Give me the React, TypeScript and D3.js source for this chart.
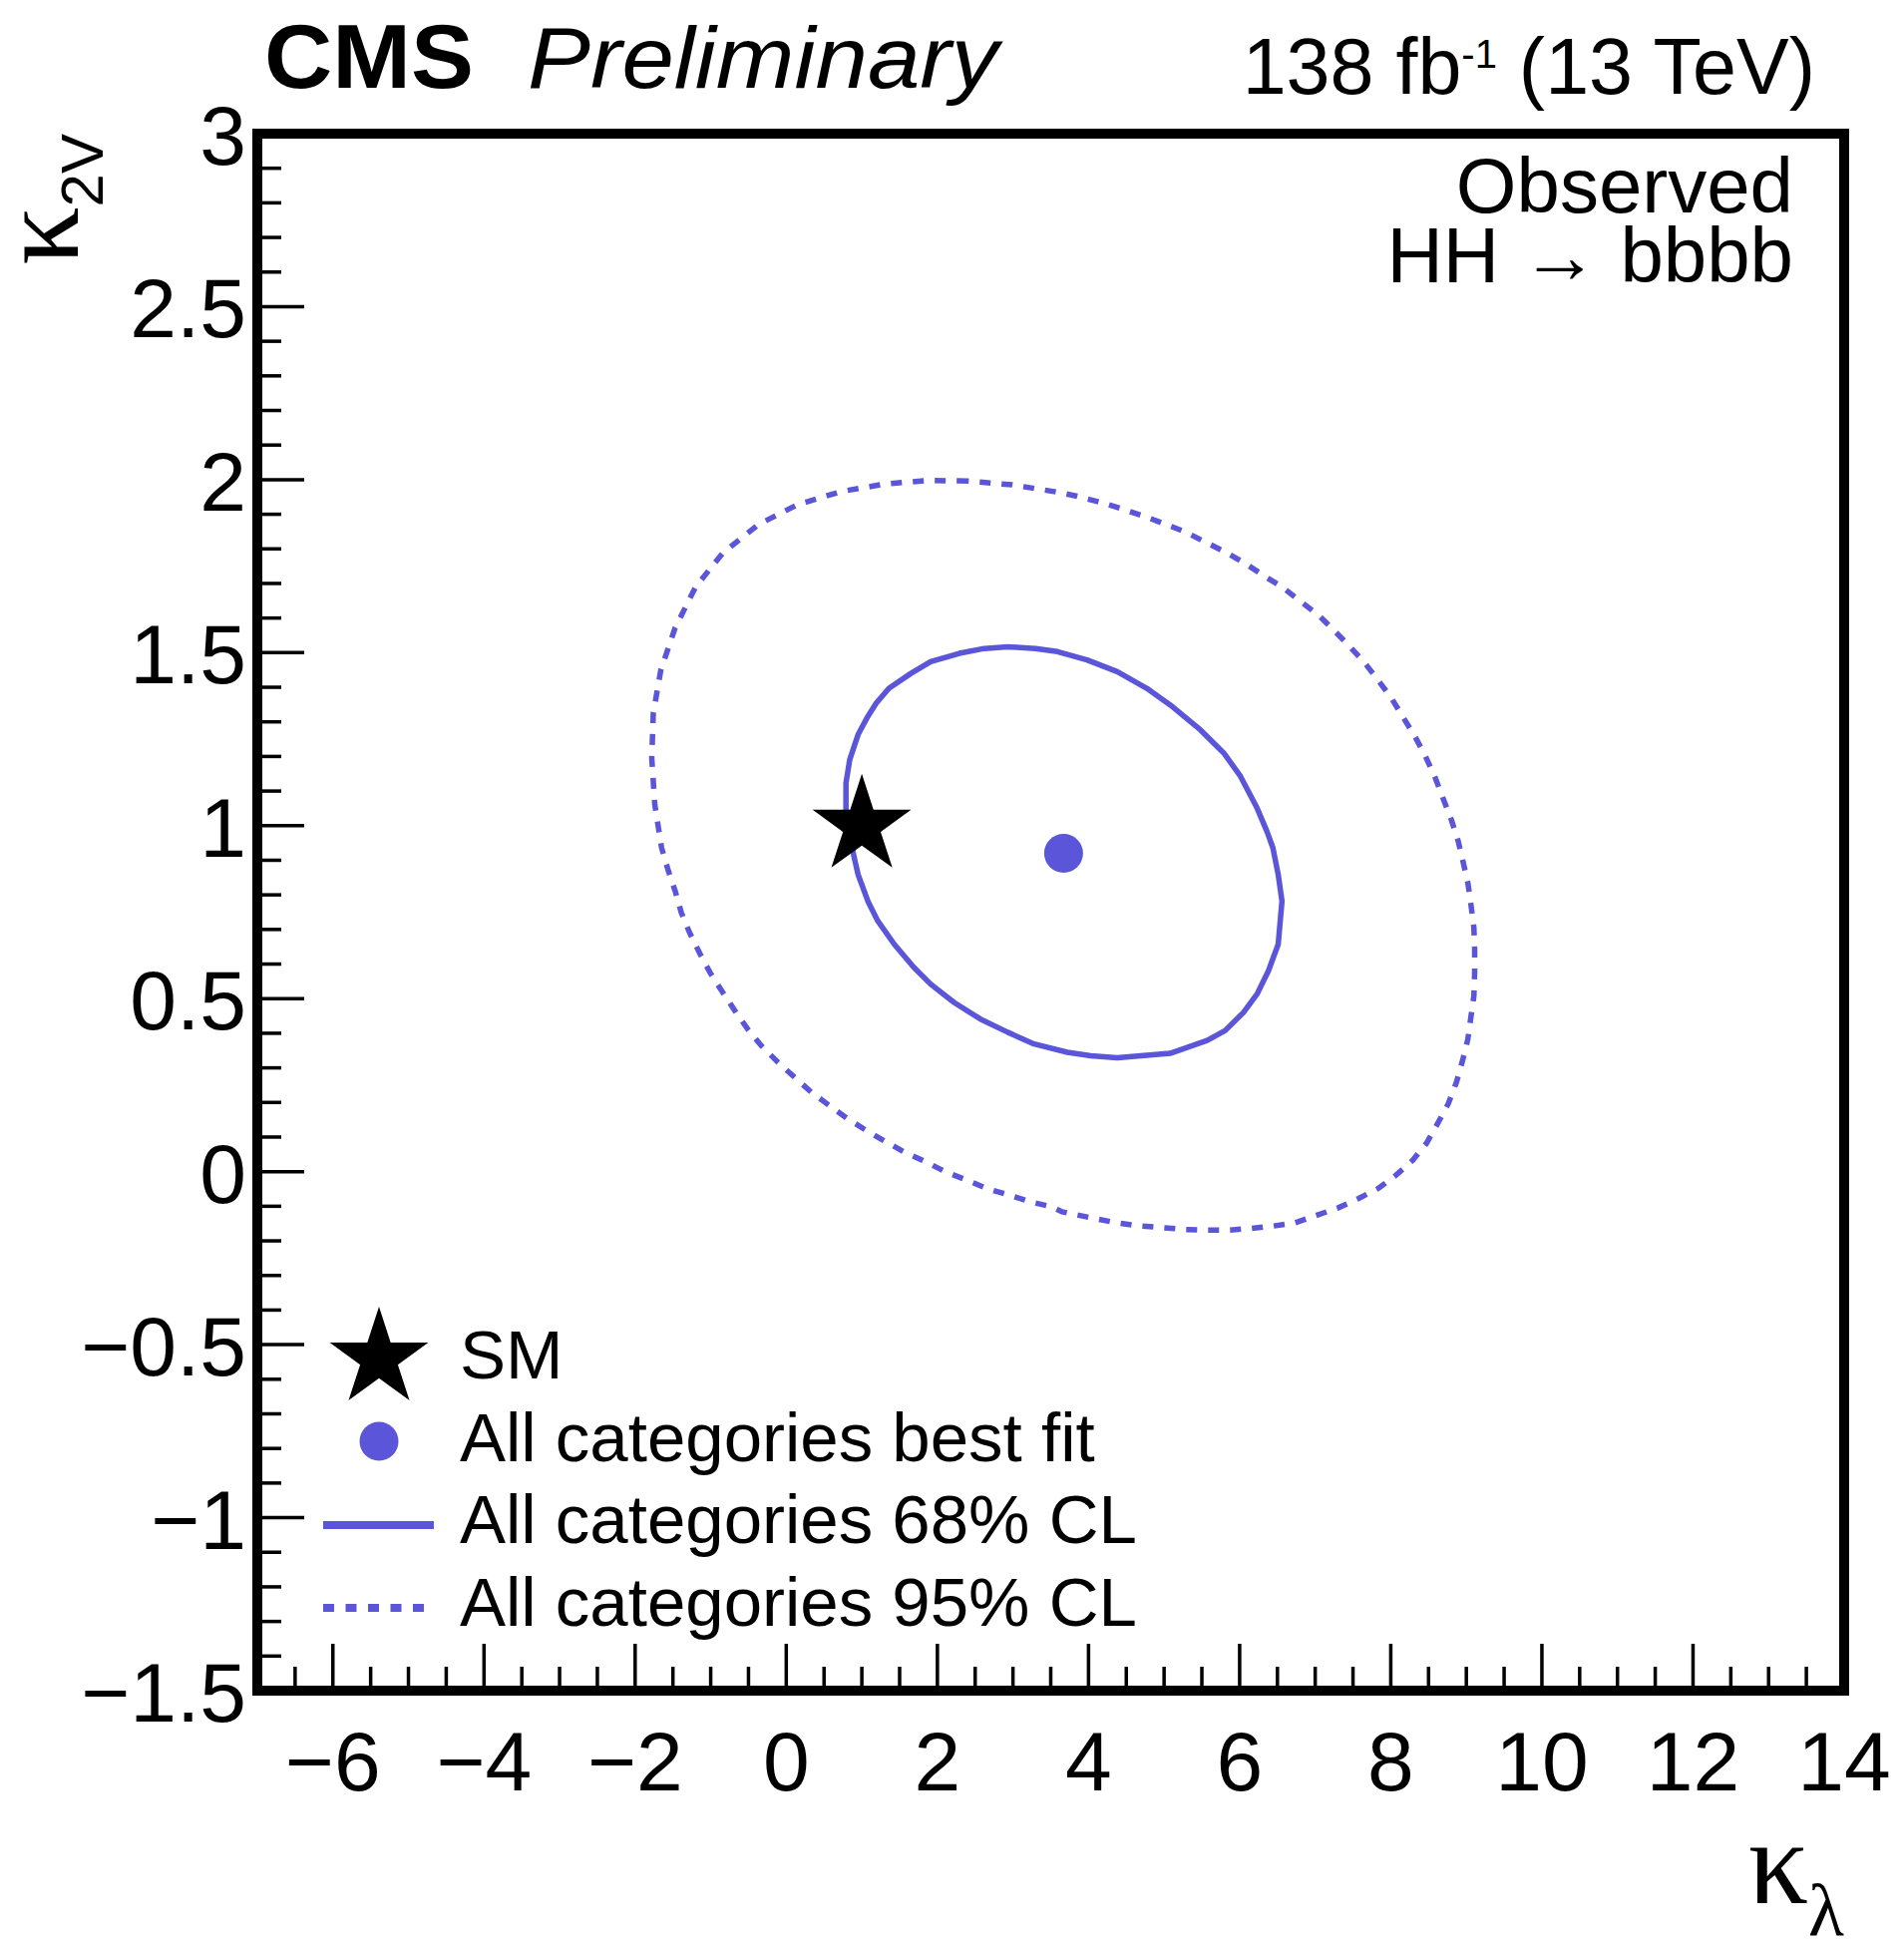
import React from "react";
import * as d3 from "d3";

// ---------------- data ----------------
const X_DOMAIN: [number, number] = [-7, 14];
const Y_DOMAIN: [number, number] = [-1.5, 3];
const X_MAJOR_TICKS = [-6, -4, -2, 0, 2, 4, 6, 8, 10, 12, 14];
const X_TICK_LABELS = ["−6", "−4", "−2", "0", "2", "4", "6", "8", "10", "12", "14"];
const Y_MAJOR_TICKS = [-1.5, -1, -0.5, 0, 0.5, 1, 1.5, 2, 2.5, 3];
const Y_TICK_LABELS = ["−1.5", "−1", "−0.5", "0", "0.5", "1", "1.5", "2", "2.5", "3"];

const SM_POINT: [number, number] = [1, 1];
const BEST_FIT: [number, number] = [3.67, 0.92];

const CONTOUR_68: [number, number][] = [
  [2.93, 1.517], [2.62, 1.512], [2.29, 1.498], [1.91, 1.474], [1.65, 1.44], [1.36, 1.397],
  [1.19, 1.354], [1.08, 1.316], [0.95, 1.263], [0.84, 1.191], [0.79, 1.123], [0.79, 1.051],
  [0.83, 0.98], [0.9, 0.907], [0.95, 0.859], [1.08, 0.782], [1.21, 0.725], [1.43, 0.657],
  [1.69, 0.59], [1.91, 0.542], [2.22, 0.489], [2.57, 0.441], [2.93, 0.403], [3.28, 0.369],
  [3.72, 0.345], [4.03, 0.335], [4.38, 0.329], [5.08, 0.342], [5.57, 0.379], [5.81, 0.408],
  [6.05, 0.46], [6.23, 0.513], [6.38, 0.58], [6.51, 0.657], [6.56, 0.782], [6.51, 0.859],
  [6.44, 0.936], [6.36, 0.984], [6.23, 1.051], [6.01, 1.143], [5.79, 1.21], [5.48, 1.277],
  [5.08, 1.349], [4.77, 1.397], [4.38, 1.445], [3.98, 1.479], [3.59, 1.503], [3.3, 1.512],
];

const CONTOUR_95: [number, number][] = [
  [2.4, 1.996], [1.89, 1.998], [1.32, 1.988], [0.73, 1.966], [0.15, 1.928], [-0.37, 1.87],
  [-0.84, 1.788], [-1.2, 1.69], [-1.47, 1.572], [-1.66, 1.45], [-1.76, 1.325], [-1.78, 1.195],
  [-1.74, 1.061], [-1.65, 0.936], [-1.56, 0.869], [-1.47, 0.811], [-1.39, 0.749], [-1.28, 0.691],
  [-1.14, 0.629], [-1.01, 0.576], [-0.84, 0.518], [-0.68, 0.465], [-0.51, 0.412], [-0.33, 0.364],
  [-0.11, 0.316], [0.11, 0.273], [0.33, 0.23], [0.57, 0.191], [0.81, 0.153], [1.06, 0.119],
  [1.32, 0.086], [1.56, 0.057], [1.85, 0.028], [2.11, -0.001], [2.4, -0.025], [2.66, -0.049],
  [2.95, -0.068], [3.23, -0.087], [3.52, -0.102], [3.65, -0.116], [4.07, -0.135], [4.38, -0.148],
  [4.69, -0.157], [4.99, -0.162], [5.28, -0.167], [5.57, -0.169], [5.85, -0.169], [6.16, -0.164],
  [6.45, -0.157], [6.73, -0.148], [7.02, -0.126], [7.3, -0.105], [7.57, -0.078], [7.83, -0.049],
  [8.07, -0.01], [8.29, 0.033], [8.47, 0.081], [8.62, 0.139], [8.76, 0.196], [8.87, 0.259],
  [8.95, 0.321], [9.02, 0.383], [9.06, 0.446], [9.1, 0.508], [9.11, 0.576], [9.11, 0.643],
  [9.1, 0.705], [9.06, 0.773], [9.02, 0.835], [8.95, 0.902], [8.89, 0.957], [8.8, 1.018],
  [8.69, 1.08], [8.58, 1.143], [8.46, 1.2], [8.32, 1.258], [8.17, 1.311], [8.01, 1.368],
  [7.83, 1.421], [7.66, 1.469], [7.46, 1.517], [7.26, 1.562], [7.04, 1.609], [6.8, 1.649],
  [6.58, 1.687], [6.31, 1.724], [6.07, 1.758], [5.81, 1.791], [5.54, 1.82], [5.28, 1.849],
  [5.0, 1.873], [4.74, 1.894], [4.44, 1.916], [4.15, 1.935], [3.85, 1.952], [3.59, 1.964],
  [2.99, 1.985],
];

const LEGEND_LABELS = [
  "SM",
  "All categories best fit",
  "All categories 68% CL",
  "All categories 95% CL",
];

// ---------------- layout / style ----------------
const W = 1909;
const H = 1951;
const FRAME = { left: 258, right: 1849, top: 134, bottom: 1695 };
const COLOR = "#5a55d9";
const SANS = "'Liberation Sans', Arial, Helvetica, sans-serif";
const SERIF = "'Liberation Serif', 'Times New Roman', serif";

function starPath(cx: number, cy: number, R: number, r: number) {
  const pts: string[] = [];
  for (let i = 0; i < 10; i++) {
    const a = (-90 + i * 36) * (Math.PI / 180);
    const rad = i % 2 === 0 ? R : r;
    pts.push(`${cx + rad * Math.cos(a)},${cy + rad * Math.sin(a)}`);
  }
  return `M${pts.join("L")}Z`;
}

export default function App() {
  const x = d3.scaleLinear().domain(X_DOMAIN).range([FRAME.left, FRAME.right]);
  const y = d3.scaleLinear().domain(Y_DOMAIN).range([FRAME.bottom, FRAME.top]);

  const xMinor = x.ticks(42);
  const yMinor = y.ticks(45);

  const line = d3
    .line<[number, number]>()
    .x((d) => x(d[0]))
    .y((d) => y(d[1]))
    .curve(d3.curveLinearClosed);

  const starR = 52;
  const starr = starR * 0.382;

  const legendX = 380;
  const legendTextX = 461;
  const legendRows = [1362, 1445, 1529, 1612];
  const legendBaselines = [1382, 1465, 1547, 1630];

  return (
    <svg
      width={W}
      height={H}
      viewBox={`0 0 ${W} ${H}`}
      style={{ position: "absolute", left: 0, top: 0, background: "#fff" }}
    >
      <rect x={0} y={0} width={W} height={H} fill="#fff" />

      {/* contours */}
      <path d={line(CONTOUR_95) || ""} fill="none" stroke={COLOR} strokeWidth={5.5} strokeDasharray="11,11" />
      <path d={line(CONTOUR_68) || ""} fill="none" stroke={COLOR} strokeWidth={5.5} strokeLinejoin="round" />

      {/* best fit */}
      <circle cx={x(BEST_FIT[0])} cy={y(BEST_FIT[1])} r={19.5} fill={COLOR} />
      {/* SM star */}
      <path d={starPath(x(SM_POINT[0]), y(SM_POINT[1]), starR, starr)} fill="#000" />

      {/* ticks */}
      <g stroke="#000" strokeWidth={3.5}>
        {xMinor.map((t) => {
          const major = X_MAJOR_TICKS.includes(t);
          return (
            <line key={`xm${t}`} x1={x(t)} x2={x(t)} y1={FRAME.bottom} y2={FRAME.bottom - (major ? 47 : 24)} />
          );
        })}
        {yMinor.map((t) => {
          const major = Y_MAJOR_TICKS.some((m) => Math.abs(m - t) < 1e-9);
          return (
            <line key={`ym${t}`} x1={FRAME.left} x2={FRAME.left + (major ? 47 : 24)} y1={y(t)} y2={y(t)} />
          );
        })}
      </g>

      {/* frame */}
      <rect
        x={FRAME.left}
        y={FRAME.top}
        width={FRAME.right - FRAME.left}
        height={FRAME.bottom - FRAME.top}
        fill="none"
        stroke="#000"
        strokeWidth={10}
      />

      {/* tick labels */}
      <g fontFamily={SANS} fontSize={84} fill="#000">
        {X_MAJOR_TICKS.map((t, i) => (
          <text key={`xl${t}`} x={x(t)} y={1795} textAnchor="middle">
            {X_TICK_LABELS[i]}
          </text>
        ))}
        {Y_MAJOR_TICKS.map((t, i) => (
          <text key={`yl${t}`} x={247} y={y(t) + 31} textAnchor="end">
            {Y_TICK_LABELS[i]}
          </text>
        ))}
      </g>

      {/* axis titles */}
      <text x={FRAME.right} y={1908} textAnchor="end" fontFamily={SERIF} fill="#000">
        <tspan fontSize={120}>κ</tspan>
        <tspan dy={32} fontSize={74}>λ</tspan>
      </text>
      <text transform={`translate(78, ${FRAME.top}) rotate(-90)`} textAnchor="end" fill="#000">
        <tspan fontFamily={SERIF} fontSize={116}>κ</tspan>
        <tspan dy={25} fontFamily={SANS} fontSize={60}>2V</tspan>
      </text>

      {/* header */}
      <text
        x={265}
        y={88}
        fontFamily={SANS}
        fontSize={90}
        fontWeight="bold"
        fill="#000"
        textLength={210}
        lengthAdjust="spacingAndGlyphs"
      >
        CMS
      </text>
      <text
        x={529}
        y={88}
        fontFamily={SANS}
        fontSize={88}
        fontStyle="italic"
        fill="#000"
        textLength={472}
        lengthAdjust="spacingAndGlyphs"
      >
        Preliminary
      </text>
      <text x={1820} y={94} textAnchor="end" fontFamily={SANS} fontSize={79} fill="#000">
        138 fb
        <tspan dy={-26} fontSize={40}>-1</tspan>
        <tspan dy={26}> (13 TeV)</tspan>
      </text>

      {/* annotation */}
      <g fontFamily={SANS} fontSize={78} fill="#000" textAnchor="end">
        <text x={1798} y={213}>Observed</text>
        <text x={1798} y={283}>HH → bbbb</text>
      </g>

      {/* legend */}
      <path d={starPath(legendX, legendRows[0], starR, starr)} fill="#000" />
      <circle cx={legendX} cy={legendRows[1]} r={19.5} fill={COLOR} />
      <line x1={324} x2={435} y1={legendRows[2]} y2={legendRows[2]} stroke={COLOR} strokeWidth={8} />
      <line x1={324} x2={426} y1={legendRows[3]} y2={legendRows[3]} stroke={COLOR} strokeWidth={8} strokeDasharray="11,11.5" />
      <g fontFamily={SANS} fontSize={69} fill="#000">
        {LEGEND_LABELS.map((l, i) => (
          <text key={l} x={legendTextX} y={legendBaselines[i]}>
            {l}
          </text>
        ))}
      </g>
    </svg>
  );
}
